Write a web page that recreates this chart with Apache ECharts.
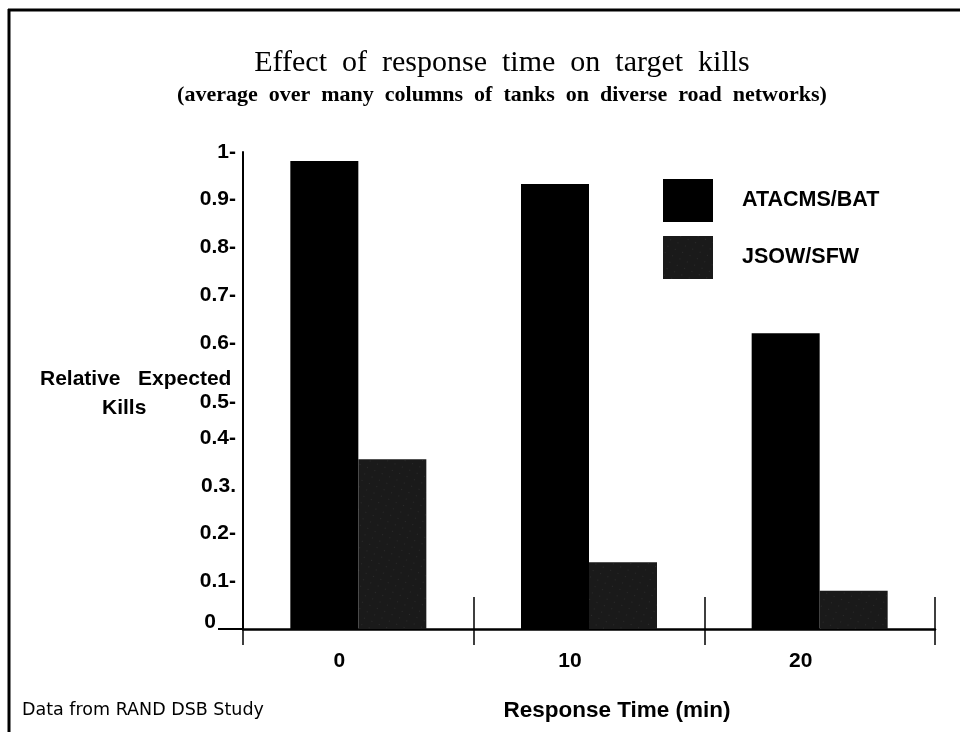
<!DOCTYPE html>
<html><head><meta charset="utf-8">
<script src="https://cdn.jsdelivr.net/npm/echarts@6/dist/echarts.min.js"></script>
<style>html,body{margin:0;padding:0;background:#fff}#c{width:960px;height:732px}</style>
</head><body><div id="c"></div>
<script>
const categories = ['0', '10', '20'];
const seriesNames = ['ATACMS/BAT', 'JSOW/SFW'];
const atacms = [0.981, 0.933, 0.62];
const jsow = [0.356, 0.14, 0.08];
const yTickLabels = ['0', '0.1-', '0.2-', '0.3.', '0.4-', '0.5-', '0.6-', '0.7-', '0.8-', '0.9-', '1-'];

const SANS = '"Liberation Sans", Arial, sans-serif';
const SERIF = '"Liberation Serif", "Times New Roman", serif';

const chart = echarts.init(document.getElementById('c'), null, {renderer: 'canvas'});
chart.setOption({
  backgroundColor: '#fff',
  animation: false,
  title: [
    {text: 'Effect  of  response  time  on  target  kills', left: 497, top: 43, textAlign: 'center',
     textStyle: {fontFamily: SERIF, fontWeight: 'normal', fontSize: 30, color: '#000'}},
    {text: '(average  over  many  columns  of  tanks  on  diverse  road  networks)', left: 497, top: 79, textAlign: 'center',
     textStyle: {fontFamily: SERIF, fontWeight: 'bold', fontSize: 22, color: '#000'}},
    {text: 'Relative   Expected', left: 35, top: 364,
     textStyle: {fontFamily: SANS, fontWeight: 'bold', fontSize: 21, color: '#000'}},
    {text: 'Kills', left: 97, top: 393,
     textStyle: {fontFamily: SANS, fontWeight: 'bold', fontSize: 21, color: '#000'}},
    {text: 'Response Time (min)', left: 612, top: 694, textAlign: 'center',
     textStyle: {fontFamily: SANS, fontWeight: 'bold', fontSize: 22.5, color: '#000'}},
    {text: 'Data from RAND DSB Study', left: 17, top: 696,
     textStyle: {fontFamily: '"DejaVu Sans", sans-serif', fontWeight: 'normal', fontSize: 17.5, color: '#000'}}
  ],
  legend: {
    orient: 'vertical', left: 663, top: 179, padding: 0, itemWidth: 50, itemHeight: 43, itemGap: 14,
    icon: 'rect', data: seriesNames,
    textStyle: {fontFamily: SANS, fontWeight: 'bold', fontSize: 21.5, color: '#000', padding: [0, 0, 0, 24]}
  },
  grid: {left: 243, right: 25, top: 152, bottom: 103, containLabel: false},
  xAxis: [{
    type: 'category', data: categories,
    axisLine: {show: true, lineStyle: {color: '#000', width: 2.5}},
    axisTick: {show: true, inside: false, length: 16, lineStyle: {color: '#000', width: 1.5}},
    axisLabel: {margin: 22, padding: [0, 38, 0, 0], fontFamily: SANS, fontWeight: 'bold', fontSize: 21, color: '#000'},
    splitLine: {show: false}
  }, {
    type: 'category', data: categories, position: 'bottom',
    axisLine: {show: false},
    axisTick: {show: true, inside: true, length: 32, lineStyle: {color: '#000', width: 1.5}},
    axisLabel: {show: false}, splitLine: {show: false}
  }],
  yAxis: {
    type: 'value', min: 0, max: 1, interval: 0.1,
    axisLine: {show: true, lineStyle: {color: '#000', width: 2}},
    axisTick: {show: true, customValues: [0], length: 25, lineStyle: {color: '#000', width: 2}},
    splitLine: {show: false},
    axisLabel: {
      margin: 7, fontFamily: SANS, fontWeight: 'bold', fontSize: 21, color: '#000',
      formatter: function (v) {
        const i = Math.round(v * 10);
        if (i === 0) return '{z|' + yTickLabels[0] + '}';
        if (i === 5) return '{d|' + yTickLabels[5] + '}';
        return yTickLabels[i];
      },
      rich: {
        z: {fontFamily: SANS, fontWeight: 'bold', fontSize: 21, color: '#000', padding: [0, 20, 14, 0]},
        d: {fontFamily: SANS, fontWeight: 'bold', fontSize: 21, color: '#000', padding: [24, 0, 0, 0]}
      }
    }
  },
  series: [{
    name: seriesNames[0], type: 'bar', data: atacms, barWidth: 68, barGap: '0%',
    itemStyle: {color: '#000'}
  }, {
    name: seriesNames[1], type: 'bar', data: jsow, barWidth: 68, barGap: '0%',
    itemStyle: {color: '#1a1a1a', decal: {symbol: 'rect', symbolSize: 0.5, color: 'rgba(255,255,255,0.3)',
      dashArrayX: [1, 7], dashArrayY: [1, 6], rotation: 0.4}}
  }],
  graphic: [
    {type: 'line', shape: {x1: 9, y1: 9, x2: 9, y2: 732}, style: {stroke: '#000', lineWidth: 3}},
    {type: 'line', shape: {x1: 8, y1: 10, x2: 960, y2: 10}, style: {stroke: '#000', lineWidth: 3}}
  ]
});
</script></body></html>
